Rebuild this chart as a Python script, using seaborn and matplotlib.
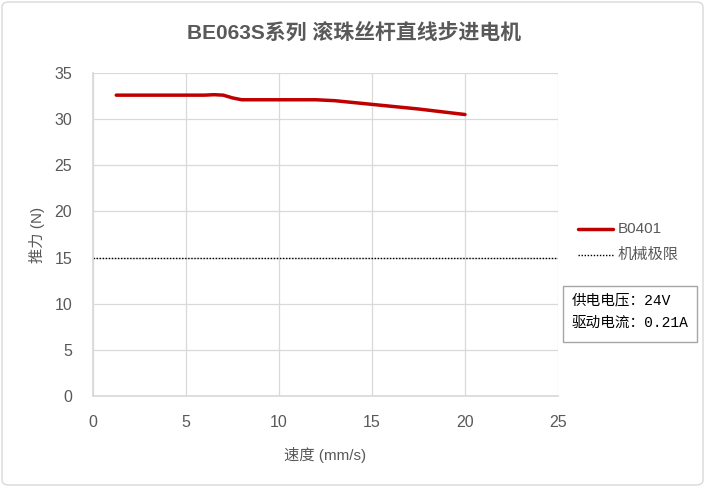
import numpy as np
import pandas as pd
import matplotlib
matplotlib.use("Agg")
import matplotlib.pyplot as plt
import seaborn as sns
from matplotlib.patches import FancyBboxPatch, Rectangle
from matplotlib.lines import Line2D

# data
speed = [1.25, 3, 5, 6, 6.5, 7, 7.5, 8, 9, 10, 11, 12, 13, 15, 17.5, 20]
force = [32.6, 32.6, 32.6, 32.6, 32.65, 32.6, 32.3, 32.1, 32.1, 32.1, 32.1, 32.1, 32.0, 31.6, 31.1, 30.5]
limit_force = 15
series_name = "B0401"
limit_name = "机械极限"
info_lines = ["供电电压：24V", "驱动电流：0.21A"]

sns.set_theme(style="whitegrid")
plt.rcParams['font.family'] = ['Liberation Sans', 'Noto Sans CJK SC', 'DejaVu Sans']

gray = "#595959"
fig = plt.figure(figsize=(7.05, 4.87), dpi=100)
ax = fig.add_axes([93/705, 1 - 396/487, (558-93)/705, (396-73)/487])

df = pd.DataFrame({"speed": speed, "force": force})
sns.lineplot(data=df, x="speed", y="force", ax=ax, color="#C00000", linewidth=2.5)
ax.axhline(limit_force, color="black", linestyle=(0, (1, 1.2)), linewidth=1)

ax.set_xlim(0, 25)
ax.set_ylim(0, 35)
ax.set_xticks(range(0, 26, 5))
ax.set_yticks(range(0, 36, 5))
ax.grid(True, color="#D9D9D9", linewidth=0.9)
for s in ax.spines.values():
    s.set_visible(False)
ax.spines['left'].set_visible(True)
ax.spines['left'].set_color("#D9D9D9")
ax.spines['bottom'].set_visible(True)
ax.spines['bottom'].set_color("#D9D9D9")
ax.tick_params(axis='x', labelsize=11.5, colors=gray, length=0, pad=14)
ax.tick_params(axis='y', labelsize=11.5, colors=gray, length=0, pad=15)
ax.set_xlabel("速度 (mm/s)", fontsize=11, color=gray, labelpad=12)
ax.set_ylabel("推力 (N)", fontsize=11, color=gray, labelpad=7)

fig.text(354/705, 1 - 33/487, "BE063S系列 滚珠丝杆直线步进电机", ha="center", va="center",
         fontsize=15, fontweight="bold", color=gray)

# legend drawn by hand on figure
fig.add_artist(Line2D([578/705, 613/705], [1 - 229/487]*2, color="#C00000", linewidth=2.5))
fig.text(618/705, 1 - 229/487, series_name, va="center", fontsize=11, color=gray)
fig.add_artist(Line2D([578/705, 613/705], [1 - 255/487]*2, color="black",
                      linestyle=(0, (1, 1.2)), linewidth=1))
fig.text(618/705, 1 - 255/487, limit_name, va="center", fontsize=11, color=gray)

# info box
fig.add_artist(Rectangle((563/705, 1 - 342/487), (697-563)/705, (342-286)/487,
                         fill=False, edgecolor="#A6A6A6", linewidth=1))
mono = ['Liberation Mono', 'Noto Sans CJK SC', 'DejaVu Sans']
fig.text(572/705, 1 - 300/487, info_lines[0], va="center", fontsize=10.5, color="black", family=mono)
fig.text(572/705, 1 - 323/487, info_lines[1], va="center", fontsize=10.5, color="black", family=mono)

# outer border
fig.add_artist(FancyBboxPatch((2/705, 2/487), 701/705, 483/487,
                              boxstyle="round,pad=0,rounding_size=0.01",
                              fill=False, edgecolor="#D9D9D9", linewidth=1))

fig.savefig("out.png", dpi=100)
